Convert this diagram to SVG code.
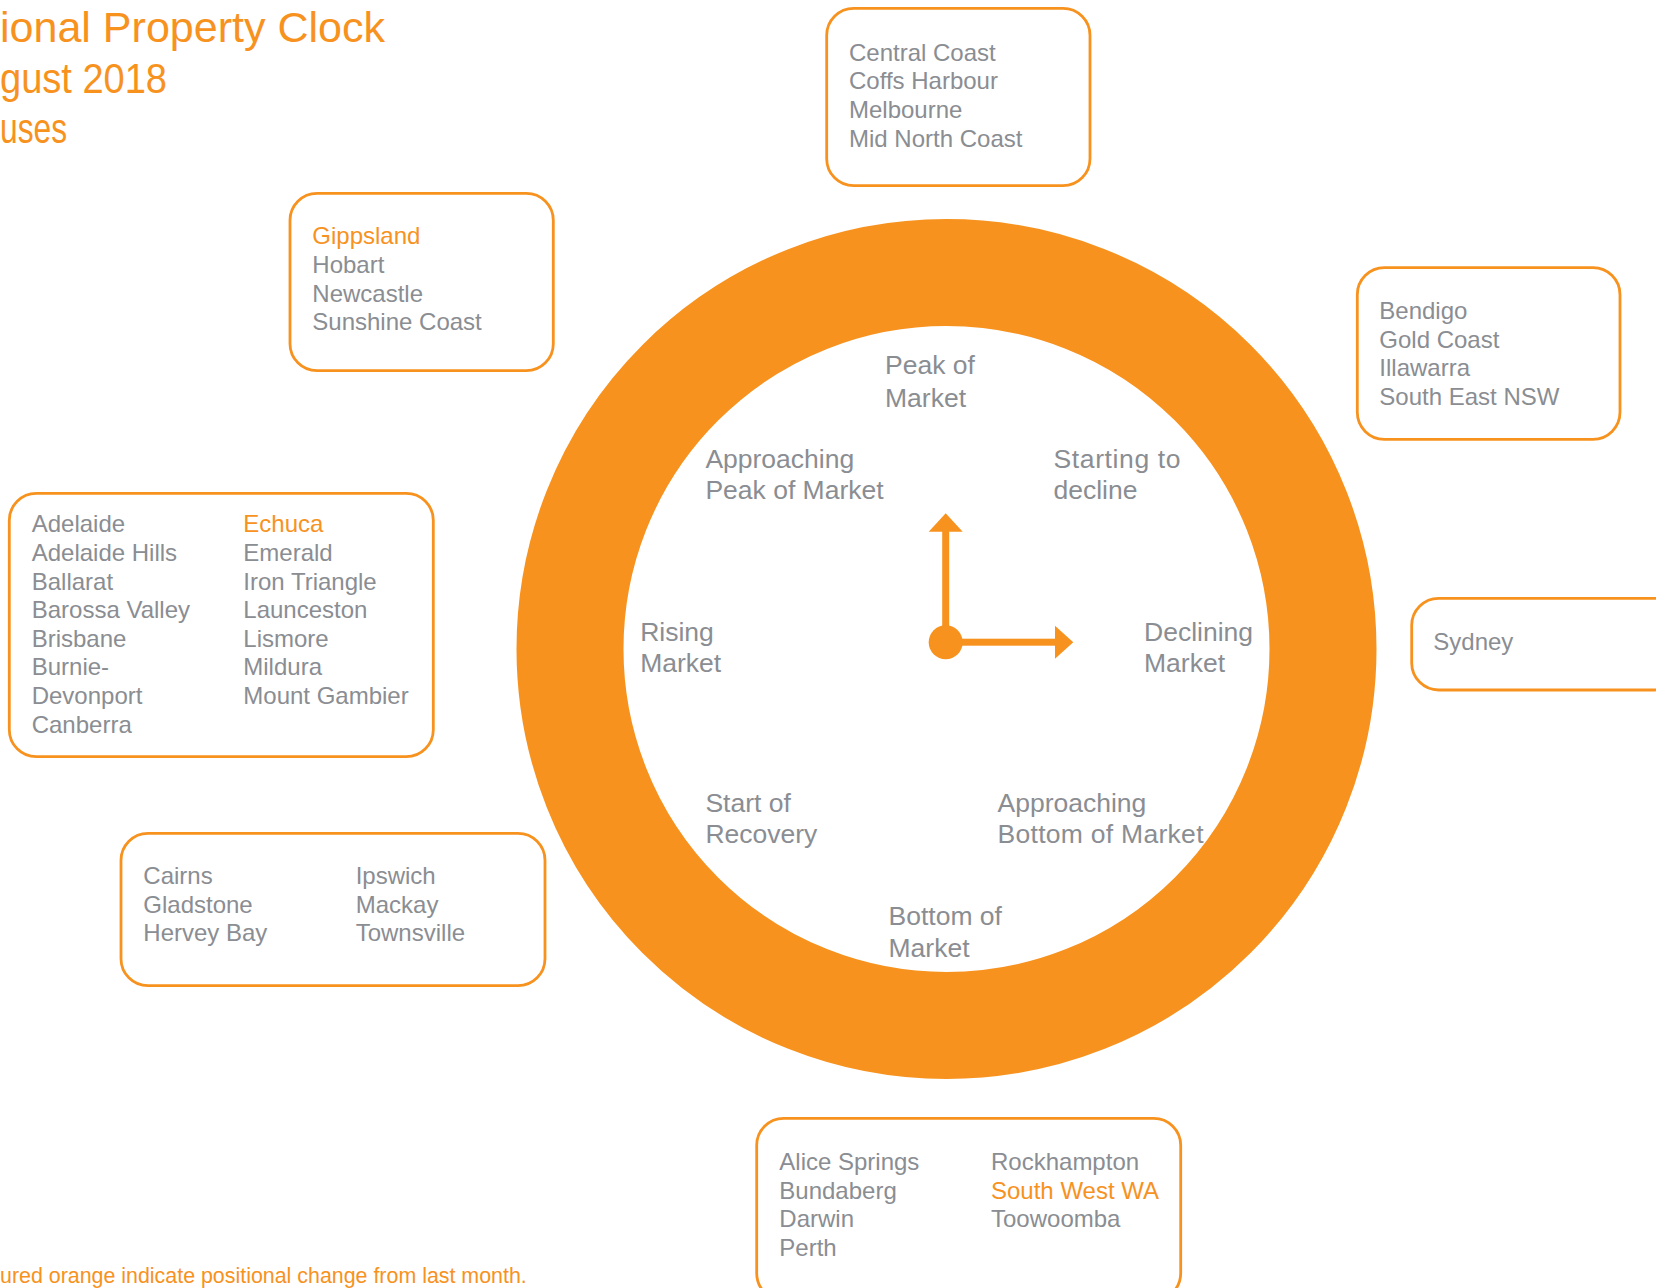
<svg xmlns="http://www.w3.org/2000/svg" width="1656" height="1288" viewBox="0 0 1656 1288">
<style>
.box{fill:#ffffff;stroke:#F7921E;stroke-width:2.8}
.t{font-family:"Liberation Sans",Arial,sans-serif;font-size:24px;fill:#8A8D92}
.o{fill:#F7921E}
.lbl{font-family:"Liberation Sans",Arial,sans-serif;font-size:26.5px;fill:#8A8D92}
.title{font-family:"Liberation Sans",Arial,sans-serif;font-size:42px;fill:#F7921E}
.foot{font-family:"Liberation Sans",Arial,sans-serif;font-size:21.4px;fill:#F7921E}
.hand{fill:#F7921E}
</style>
<rect width="1656" height="1288" fill="#ffffff"/>
<g id="title">
<text class="title" x="0" y="42" textLength="385" lengthAdjust="spacingAndGlyphs">ional Property Clock</text>
<text class="title" x="0" y="92.7" textLength="167" lengthAdjust="spacingAndGlyphs">gust 2018</text>
<text class="title" x="0" y="143" textLength="67" lengthAdjust="spacingAndGlyphs">uses</text>
</g>
<g id="clock">
<circle cx="946.5" cy="649" r="376.5" fill="none" stroke="#F7921E" stroke-width="107"/>
<g id="clock-labels">
<text class="lbl" x="885" y="374.2">Peak of</text>
<text class="lbl" x="885" y="406.5">Market</text>
<text class="lbl" x="705.4" y="468.2">Approaching</text>
<text class="lbl" x="705.4" y="499">Peak of Market</text>
<text class="lbl" x="1053.5" y="467.5" textLength="127">Starting to</text>
<text class="lbl" x="1053.5" y="498.5">decline</text>
<text class="lbl" x="640.2" y="640.8">Rising</text>
<text class="lbl" x="640.2" y="672">Market</text>
<text class="lbl" x="1144" y="640.8">Declining</text>
<text class="lbl" x="1144" y="671.7">Market</text>
<text class="lbl" x="705.4" y="811.8">Start of</text>
<text class="lbl" x="705.4" y="843.3">Recovery</text>
<text class="lbl" x="997.5" y="811.8">Approaching</text>
<text class="lbl" x="997.5" y="843.3" textLength="206">Bottom of Market</text>
<text class="lbl" x="888.5" y="925.1">Bottom of</text>
<text class="lbl" x="888.5" y="957">Market</text>
</g>
</g>
<g id="clock-hands">
<rect class="hand" x="942.2" y="530" width="7" height="112"/>
<polygon class="hand" points="928.7,531.7 962.7,531.7 945.7,513.3"/>
<rect class="hand" x="946" y="638.7" width="110" height="7"/>
<polygon class="hand" points="1055,625.7 1055,658.7 1073.3,642.2"/>
<circle class="hand" cx="945.7" cy="642.3" r="17"/>
</g>
<g id="box-central-coast">
<rect class="box" x="826.7" y="8.3" width="263.3" height="177.4" rx="27"/>
<text class="t" x="849" y="60.5">Central Coast</text>
<text class="t" x="849" y="89.2">Coffs Harbour</text>
<text class="t" x="849" y="117.9">Melbourne</text>
<text class="t" x="849" y="146.6">Mid North Coast</text>
</g>
<g id="box-gippsland">
<rect class="box" x="290" y="193.3" width="263.3" height="177.4" rx="27"/>
<text class="t o" x="312.3" y="244.3">Gippsland</text>
<text class="t" x="312.3" y="273">Hobart</text>
<text class="t" x="312.3" y="301.7">Newcastle</text>
<text class="t" x="312.3" y="330.4">Sunshine Coast</text>
</g>
<g id="box-bendigo">
<rect class="box" x="1357.3" y="267.7" width="262.7" height="171.6" rx="27"/>
<text class="t" x="1379.3" y="319">Bendigo</text>
<text class="t" x="1379.3" y="347.7">Gold Coast</text>
<text class="t" x="1379.3" y="376.4">Illawarra</text>
<text class="t" x="1379.3" y="405.1">South East NSW</text>
</g>
<g id="box-sydney">
<rect class="box" x="1411.7" y="598.3" width="270" height="91.7" rx="27"/>
<text class="t" x="1433.3" y="650">Sydney</text>
</g>
<g id="box-adelaide">
<rect class="box" x="9.3" y="493.3" width="424" height="263.4" rx="27"/>
<text class="t" x="31.7" y="532.3">Adelaide</text>
<text class="t" x="31.7" y="560.9">Adelaide Hills</text>
<text class="t" x="31.7" y="589.5">Ballarat</text>
<text class="t" x="31.7" y="618.1">Barossa Valley</text>
<text class="t" x="31.7" y="646.7">Brisbane</text>
<text class="t" x="31.7" y="675.3">Burnie-</text>
<text class="t" x="31.7" y="703.9">Devonport</text>
<text class="t" x="31.7" y="732.5">Canberra</text>
<text class="t o" x="243.3" y="532.3">Echuca</text>
<text class="t" x="243.3" y="560.9">Emerald</text>
<text class="t" x="243.3" y="589.5">Iron Triangle</text>
<text class="t" x="243.3" y="618.1">Launceston</text>
<text class="t" x="243.3" y="646.7">Lismore</text>
<text class="t" x="243.3" y="675.3">Mildura</text>
<text class="t" x="243.3" y="703.9">Mount Gambier</text>
</g>
<g id="box-cairns">
<rect class="box" x="121" y="833.3" width="424" height="152.4" rx="27"/>
<text class="t" x="143.3" y="884">Cairns</text>
<text class="t" x="143.3" y="912.7">Gladstone</text>
<text class="t" x="143.3" y="941.4">Hervey Bay</text>
<text class="t" x="355.7" y="884">Ipswich</text>
<text class="t" x="355.7" y="912.7">Mackay</text>
<text class="t" x="355.7" y="941.4">Townsville</text>
</g>
<g id="box-alice-springs">
<rect class="box" x="756.7" y="1118.3" width="424" height="182" rx="27"/>
<text class="t" x="779.3" y="1170">Alice Springs</text>
<text class="t" x="779.3" y="1198.7">Bundaberg</text>
<text class="t" x="779.3" y="1227.4">Darwin</text>
<text class="t" x="779.3" y="1256.1">Perth</text>
<text class="t" x="991" y="1170">Rockhampton</text>
<text class="t o" x="991" y="1198.7">South West WA</text>
<text class="t" x="991" y="1227.4">Toowoomba</text>
</g>
<g id="footnote">
<text class="foot" x="0" y="1282.5">ured orange indicate positional change from last month.</text>
</g>
</svg>
